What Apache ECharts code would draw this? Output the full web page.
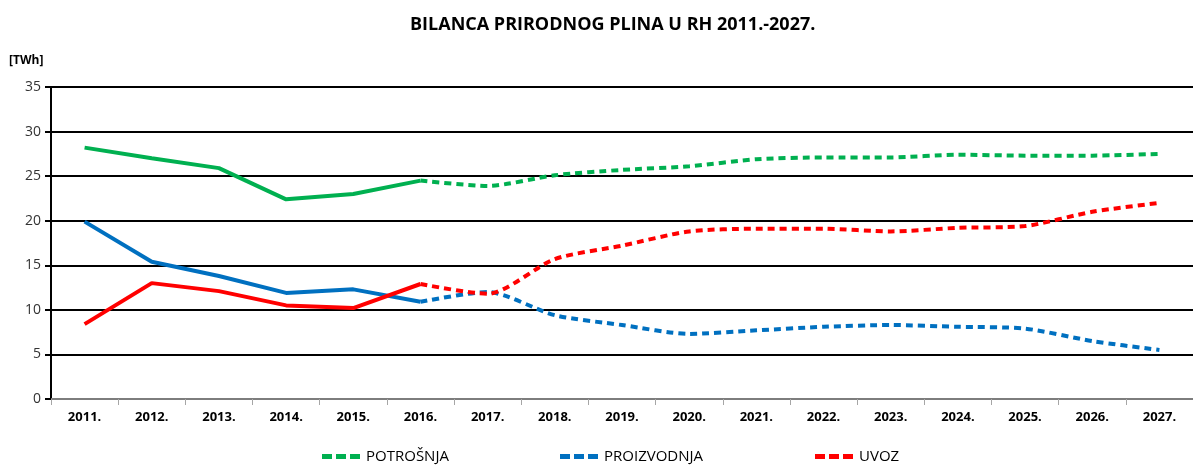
<!DOCTYPE html>
<html>
<head>
<meta charset="utf-8">
<script src="https://cdn.jsdelivr.net/npm/echarts@6/dist/echarts.min.js"></script>
<style>
  html, body { margin: 0; padding: 0; background: #fff; }
  #chart { width: 1193px; height: 466px; }
</style>
</head>
<body>
<div id="chart"></div>
<script>
var years = ['2011.', '2012.', '2013.', '2014.', '2015.', '2016.', '2017.', '2018.', '2019.',
  '2020.', '2021.', '2022.', '2023.', '2024.', '2025.', '2026.', '2027.'];
var potrosnja = [28.2, 27.0, 25.9, 22.4, 23.0, 24.5, 23.9, 25.1, 25.7, 26.1, 26.9, 27.1, 27.1, 27.4, 27.3, 27.3, 27.5];
var proizvodnja = [19.9, 15.4, 13.8, 11.9, 12.3, 10.9, 12.0, 9.4, 8.3, 7.3, 7.7, 8.1, 8.3, 8.1, 7.9, 6.5, 5.5];
var uvoz = [8.4, 13.0, 12.1, 10.5, 10.2, 12.9, 11.8, 15.7, 17.2, 18.8, 19.1, 19.1, 18.8, 19.2, 19.4, 21.0, 22.0];
var lastHistoric = 5; // index of 2016., solid up to here, dashed after

var font = "'Open Sans', 'Liberation Sans', sans-serif";

// split a series into the solid (historic) and dashed (forecast) part
function solidPart (arr) {
  return arr.map(function (v, i) { return i <= lastHistoric ? v : null; });
}
function dashedPart (arr) {
  return arr.map(function (v, i) { return i >= lastHistoric ? v : null; });
}

function makeSeries (name, arr, color) {
  return [{
    name: name + ' ',
    type: 'line',
    data: solidPart(arr),
    symbol: 'none',
    lineStyle: { color: color, width: 4 },
    itemStyle: { color: color }
  }, {
    name: name,
    type: 'line',
    data: dashedPart(arr),
    symbol: 'none',
    smooth: 0.25,
    lineStyle: { color: color, width: 4, type: [7, 5] },
    itemStyle: { color: color }
  }];
}

function legendAt (name, left) {
  return {
    data: [name],
    left: left,
    top: 449,
    padding: 0,
    icon: 'path://M0,0 L10,0 L10,5 L0,5 Z M14,0 L24,0 L24,5 L14,5 Z M28,0 L38,0 L38,5 L28,5 Z',
    itemWidth: 38,
    itemHeight: 5,
    itemGap: 6,
    textStyle: { fontFamily: font, fontSize: 15, color: '#000', fontWeight: 'normal', padding: [0, 0, 0, 1] }
  };
}

var chart = echarts.init(document.getElementById('chart'));
var series = [].concat(
  makeSeries('POTROŠNJA', potrosnja, '#00B050'),
  makeSeries('PROIZVODNJA', proizvodnja, '#0070C0'),
  makeSeries('UVOZ', uvoz, '#FF0000')
);

chart.setOption({
  animation: false,
  backgroundColor: '#fff',
  title: {
    text: 'BILANCA PRIRODNOG PLINA U RH 2011.-2027.',
    left: 405,
    top: 11,
    textStyle: { fontFamily: font, fontSize: 18, fontWeight: 'bold', color: '#000' }
  },
  legend: [
    legendAt('POTROŠNJA', 322),
    legendAt('PROIZVODNJA', 560),
    legendAt('UVOZ', 815)
  ],
  grid: { left: 51, top: 87, width: 1148, height: 312, containLabel: false },
  xAxis: {
    type: 'category',
    data: years,
    boundaryGap: true,
    axisLine: { lineStyle: { color: '#a6a6a6', width: 1.5 } },
    axisTick: { show: true, length: 6, lineStyle: { color: '#a6a6a6' } },
    axisLabel: { fontFamily: font, fontSize: 13, fontWeight: 'bold', color: '#000', margin: 12 }
  },
  yAxis: {
    type: 'value',
    min: 0,
    max: 35,
    interval: 5,
    name: '[TWh]',
    nameLocation: 'end',
    nameGap: 20,
    nameTextStyle: { fontFamily: font, fontSize: 12, color: '#000', fontWeight: 'bold', align: 'left', padding: [0, 0, 0, -42] },
    axisLine: { show: true, lineStyle: { color: '#000', width: 2 } },
    axisTick: { show: true, length: 6, lineStyle: { color: '#000', width: 2 } },
    axisLabel: { fontFamily: font, fontSize: 14, color: '#333', margin: 10 },
    splitLine: { lineStyle: { color: '#000', width: 2 } }
  },
  series: series
});
</script>
</body>
</html>
